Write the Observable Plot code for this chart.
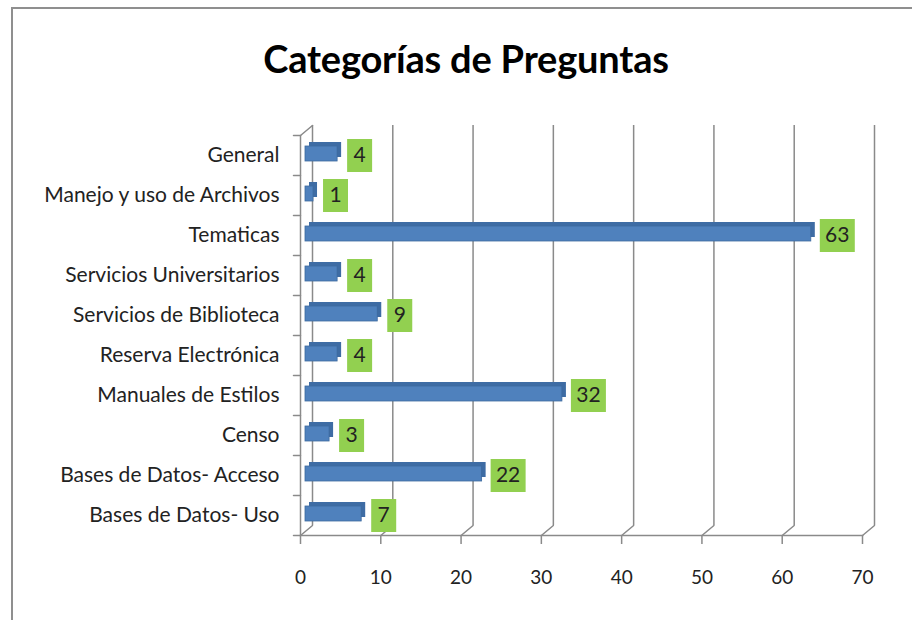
<!DOCTYPE html>
<html>
<head>
<meta charset="utf-8">
<script src="https://cdn.jsdelivr.net/npm/d3@7"></script>
<script src="https://cdn.jsdelivr.net/npm/@observablehq/plot@0.6"></script>
<style>
  html, body { margin: 0; padding: 0; background: #fff; }
  #wrap { position: relative; width: 912px; height: 620px; overflow: hidden; font-family: Lato, "Open Sans", sans-serif; }
  #border { position: absolute; left: 11px; top: 7px; width: 940px; height: 640px; border-left: 2px solid #8f8f8f; border-top: 2px solid #8f8f8f; }
  #title { position: absolute; left: 0; top: 39px; width: 932px; text-align: center; font-size: 38px; line-height: 38px; font-weight: 700; color: #000; white-space: nowrap; letter-spacing: -0.2px; }
  #chart { position: absolute; left: 0; top: 100px; }
</style>
</head>
<body>
<div id="wrap">
  <div id="border"></div>
  <div id="title">Categorías de Preguntas</div>
  <div id="chart"></div>
</div>
<script>
const categories = [
  "General",
  "Manejo y uso de Archivos",
  "Tematicas",
  "Servicios Universitarios",
  "Servicios de Biblioteca",
  "Reserva Electrónica",
  "Manuales de Estilos",
  "Censo",
  "Bases de Datos- Acceso",
  "Bases de Datos- Uso"
];
const values = [4, 1, 63, 4, 9, 4, 32, 3, 22, 7];
const xTicks = [0, 10, 20, 30, 40, 50, 60, 70];

const data = categories.map((c, i) => ({category: c, value: values[i]}));
const small = data.filter(d => d.value < 10);
const large = data.filter(d => d.value >= 10);
const lastCategory = categories[categories.length - 1];

const gridColor = "#8a8a8a";
const textColor = "#222";
const lineShape = {draw(ctx, l) { ctx.moveTo(0, 0); ctx.lineTo(0, -l); }};
const boxShape = (w, h) => ({draw(ctx) { ctx.rect(-w / 2, -h / 2, w, h); }});

const chart = Plot.plot({
  width: 912,
  height: 520,
  marginLeft: 300,
  marginRight: 50,
  marginTop: 35,
  marginBottom: 85,
  style: {fontFamily: "Lato, 'Open Sans', sans-serif", background: "transparent", overflow: "visible"},
  x: {domain: [0, 70], axis: null},
  y: {domain: categories, padding: 0, axis: null},
  marks: [
    // back-wall gridlines (3D offset)
    Plot.ruleX(xTicks, {stroke: gridColor, strokeWidth: 1.5, dx: 12, dy: -10}),
    // floor diagonals joining front ticks to back gridlines
    Plot.vector(xTicks, {x: d => d, frameAnchor: "bottom", length: 15.6, rotate: 50.2, anchor: "start", shape: lineShape, stroke: gridColor, strokeWidth: 1.5}),
    // top diagonal of the value axis wall
    Plot.vector([0], {x: d => d, frameAnchor: "top", length: 15.6, rotate: 50.2, anchor: "start", shape: lineShape, stroke: gridColor, strokeWidth: 1.5}),
    // front y axis line
    Plot.ruleX([0], {stroke: gridColor, strokeWidth: 1.5}),
    // front x axis line
    Plot.frame({anchor: "bottom", stroke: gridColor, strokeWidth: 1.5}),
    // y tick marks at band boundaries
    Plot.vector(categories, {x: () => 0, y: d => d, dy: -20, length: 7, rotate: -90, anchor: "start", shape: lineShape, stroke: gridColor, strokeWidth: 1.5}),
    Plot.vector([lastCategory], {x: () => 0, y: d => d, dy: 20, length: 7, rotate: -90, anchor: "start", shape: lineShape, stroke: gridColor, strokeWidth: 1.5}),
    // x axis ticks and labels
    Plot.axisX(xTicks, {tickSize: 9, tickPadding: 26, fontSize: 19, stroke: gridColor, strokeWidth: 1.5, fill: textColor, label: null}),
    // y axis labels
    Plot.axisY({tickSize: 0, tickPadding: 21, fontSize: 21, fill: textColor, label: null}),
    // 3D bars: back/side face then front face
    Plot.barX(data, {x: "value", y: "category", fill: "#3e6ca4", insetTop: 12, insetBottom: 13, dx: 9, dy: -5}),
    Plot.barX(data, {x: "value", y: "category", fill: "#4f81bd", stroke: "#3d6a9f", strokeWidth: 0.8, insetTop: 12, insetBottom: 13, dx: 5, dy: -1}),
    // green data label boxes
    Plot.dot(small, {x: "value", y: "category", symbol: boxShape(25, 33), fill: "#92d050", stroke: "none", dx: 27}),
    Plot.dot(large, {x: "value", y: "category", symbol: boxShape(35, 33), fill: "#92d050", stroke: "none", dx: 31}),
    Plot.text(small, {x: "value", y: "category", text: d => String(d.value), dx: 27, fontSize: 21, fill: textColor}),
    Plot.text(large, {x: "value", y: "category", text: d => String(d.value), dx: 31, fontSize: 21, fill: textColor})
  ]
});
document.getElementById("chart").appendChild(chart);
</script>
</body>
</html>
